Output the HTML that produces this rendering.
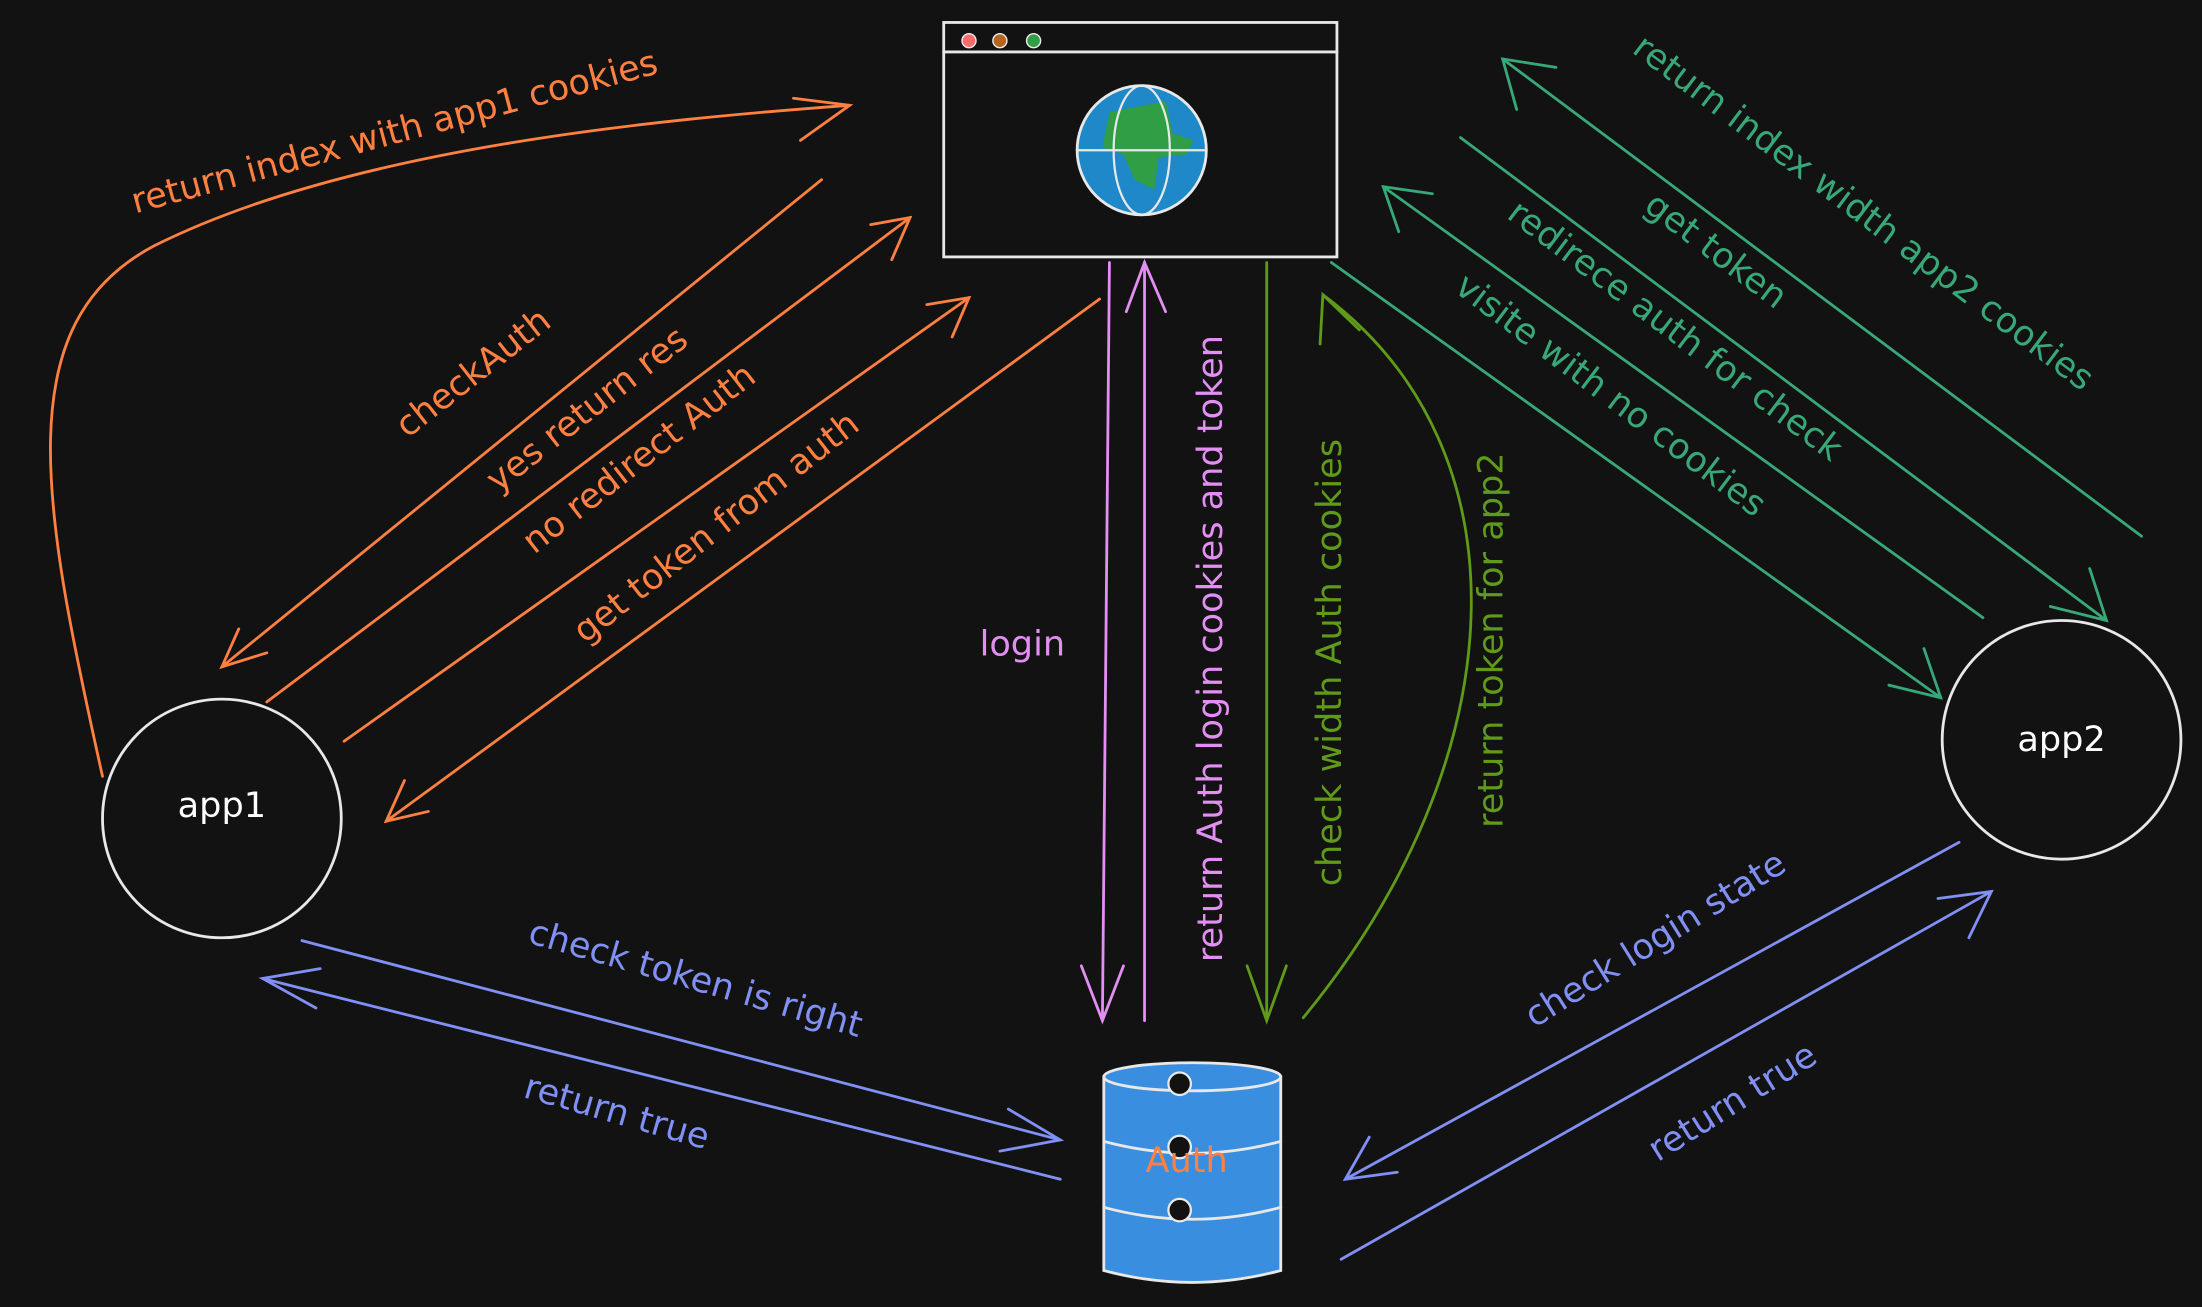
<!DOCTYPE html>
<html><head><meta charset="utf-8"><style>
html,body{margin:0;padding:0;background:#121212;}
svg{display:block}
text{font-family:"DejaVu Sans","Liberation Sans",sans-serif;font-size:25px;}
</style></head><body>
<svg width="2202" height="1307" viewBox="0 0 1568 931" preserveAspectRatio="none" xmlns="http://www.w3.org/2000/svg">
<rect width="1568" height="931" fill="#121212"/>
<g fill="none" stroke-linecap="round" stroke-width="1.6">
<rect x="672" y="16" width="280" height="167" stroke="#e8e8e8" stroke-width="2"/>
<line x1="672" y1="37" x2="952" y2="37" stroke="#e8e8e8" stroke-width="2"/>
<circle cx="690" cy="29" r="5" fill="#ff6b6b" stroke="#eee" stroke-width="1"/>
<circle cx="712" cy="29" r="5" fill="#b5651d" stroke="#eee" stroke-width="1"/>
<circle cx="736" cy="29" r="5" fill="#2f9e44" stroke="#eee" stroke-width="1"/>
<circle cx="813" cy="107" r="46" fill="#1f88c8" stroke="#e8e8e8" stroke-width="2"/>
<path d="M790,80 L830,72 L835,95 L850,100 L845,110 L825,112 L822,135 L808,128 L800,110 L785,105 Z" fill="#2f9e44" stroke="none"/>
<ellipse cx="813" cy="107" rx="20" ry="46" stroke="#e8e8e8"/>
<line x1="767" y1="107" x2="859" y2="107" stroke="#e8e8e8"/>
<circle cx="158" cy="583" r="85" stroke="#e8e8e8" stroke-width="2"/>
<circle cx="1468" cy="527" r="85" stroke="#e8e8e8" stroke-width="2"/>
<path d="M786,767 L786,905 Q849,922 912,905 L912,767 Z" fill="#3a8ee0" stroke="#e8e8e8" stroke-width="2"/>
<ellipse cx="849" cy="767" rx="63" ry="10" fill="#3a8ee0" stroke="#e8e8e8" stroke-width="2"/>
<path d="M786,813 Q849,830 912,813 M786,860 Q849,877 912,860" stroke="#e8e8e8" stroke-width="2"/>
<circle cx="840" cy="772" r="8" fill="#121212" stroke="#e8e8e8"/>
<circle cx="840" cy="817" r="8" fill="#121212" stroke="#e8e8e8"/>
<circle cx="840" cy="862" r="8" fill="#121212" stroke="#e8e8e8"/>
<g stroke="#ff8040" stroke-width="2">
<path d="M73,553 C30,360 5,230 110,175 C250,105 470,85 605,75"/>
<path d="M565,70 L605,75 L570,100"/>
<line x1="585" y1="128" x2="158" y2="475"/><path d="M170,448 L158,475 L190,465"/>
<line x1="190" y1="500" x2="648" y2="155"/><path d="M620,160 L648,155 L635,185"/>
<line x1="245" y1="528" x2="690" y2="212"/><path d="M660,217 L690,212 L678,240"/>
<line x1="783" y1="213" x2="275" y2="585"/><path d="M288,556 L275,585 L305,578"/>
</g>
<g stroke="#e28ef2" stroke-width="2">
<line x1="790" y1="187" x2="785" y2="727"/><path d="M770,688 L785,727 L800,688"/>
<line x1="815" y1="727" x2="815" y2="187"/><path d="M802,222 L815,187 L830,222"/>
</g>
<g stroke="#5f9a18" stroke-width="2">
<line x1="902" y1="187" x2="902" y2="727"/><path d="M888,688 L902,727 L916,688"/>
<path d="M928,725 C1080,540 1090,320 942,210"/><path d="M940,245 L942,210 L968,235"/>
</g>
<g stroke="#38a878" stroke-width="2">
<line x1="1525" y1="382" x2="1070" y2="42"/><path d="M1080,78 L1070,42 L1108,48"/>
<line x1="1040" y1="98" x2="1500" y2="442"/><path d="M1460,432 L1500,442 L1488,405"/>
<line x1="1412" y1="440" x2="985" y2="133"/><path d="M996,165 L985,133 L1020,138"/>
<line x1="948" y1="187" x2="1382" y2="497"/><path d="M1345,488 L1382,497 L1370,462"/>
</g>
<g stroke="#8090f4" stroke-width="2">
<line x1="215" y1="670" x2="755" y2="812"/><path d="M718,790 L755,812 L712,820"/>
<line x1="755" y1="840" x2="187" y2="697"/><path d="M228,690 L187,697 L225,718"/>
<line x1="1395" y1="600" x2="958" y2="840"/><path d="M975,810 L958,840 L995,835"/>
<line x1="955" y1="897" x2="1418" y2="635"/><path d="M1380,640 L1418,635 L1402,668"/>
</g>
</g>
<g text-anchor="middle">
<text x="158" y="582" fill="#fff" font-size="22">app1</text>
<text x="1468" y="535" fill="#fff" font-size="22">app2</text>
<text x="845" y="835" fill="#ff8040">Auth</text>
<g fill="#ff8040">
<text transform="translate(283,102) rotate(-15)">return index with app1 cookies</text>
<text transform="translate(342,272) rotate(-38)">checkAuth</text>
<text transform="translate(423,298) rotate(-38)">yes return res</text>
<text transform="translate(460,333) rotate(-38)">no redirect Auth</text>
<text transform="translate(515,382) rotate(-38)">get token from auth</text>
</g>
<text x="728" y="467" fill="#e28ef2">login</text>
<text transform="translate(870,462) rotate(-90)" fill="#e28ef2">return Auth login cookies and token</text>
<text transform="translate(955,472) rotate(-90)" fill="#5f9a18">check width Auth cookies</text>
<text transform="translate(1070,456) rotate(-90)" fill="#5f9a18">return token for app2</text>
<g fill="#38a878">
<text transform="translate(1322,158) rotate(37)">return index width app2 cookies</text>
<text transform="translate(1217,185) rotate(37)">get token</text>
<text transform="translate(1188,242) rotate(37)">redirece auth for check</text>
<text transform="translate(1142,288) rotate(37)">visite with no cookies</text>
</g>
<g fill="#8090f4">
<text transform="translate(493,705) rotate(16)">check token is right</text>
<text transform="translate(437,800) rotate(16)">return true</text>
<text transform="translate(1183,676) rotate(-32)">check login state</text>
<text transform="translate(1238,792) rotate(-32)">return true</text>
</g>
</g>
</svg>
</body></html>
